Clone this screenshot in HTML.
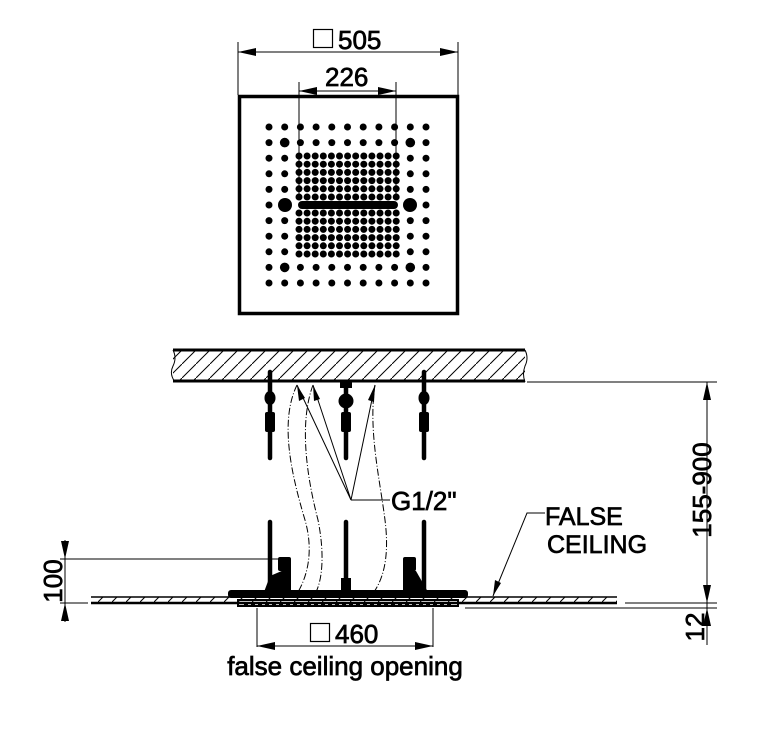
<!DOCTYPE html>
<html><head><meta charset="utf-8"><style>
html,body{margin:0;padding:0;background:#fff;}
svg{display:block;}
text{font-family:"Liberation Sans",Arial,sans-serif;fill:#000;stroke:#000;stroke-width:0.7;}
</style></head><body>
<svg id="s" width="769" height="737" viewBox="0 0 769 737" xmlns="http://www.w3.org/2000/svg">
<defs>
<pattern id="h" width="14" height="14" patternUnits="userSpaceOnUse">
<path d="M0 14 L14 0" stroke="#000" stroke-width="1"/>
</pattern>
</defs>
<rect x="239.5" y="96.5" width="218" height="217" fill="none" stroke="#000" stroke-width="3.5"/>
<g id="dots"></g>
<rect x="298" y="201" width="100" height="8" rx="4" fill="#000"/>
<circle cx="285" cy="205" r="7"/><circle cx="410" cy="205" r="7"/>
<g stroke="#000" stroke-width="1">
<line x1="238" y1="42" x2="238" y2="95"/><line x1="458" y1="42" x2="458" y2="95"/>
<line x1="238" y1="52" x2="458" y2="52"/>
<line x1="299" y1="82" x2="299" y2="198"/><line x1="396" y1="82" x2="396" y2="198"/>
<line x1="299" y1="91" x2="396" y2="91"/>
</g>
<path d="M238 52 l18 -4 v8z M458 52 l-18 -4 v8z M299 91 l18 -4 v8z M396 91 l-18 -4 v8z"/>
<rect x="313.5" y="29.5" width="19" height="18" fill="none" stroke="#000" stroke-width="1.2"/>
<text x="338" y="49" font-size="26">505</text>
<text x="325" y="86" font-size="26">226</text>

<rect x="173" y="350" width="352" height="32" fill="url(#h)"/>
<line x1="173" y1="350" x2="525" y2="350" stroke="#000" stroke-width="3"/>
<line x1="173" y1="381" x2="525" y2="381" stroke="#000" stroke-width="3"/>
<path d="M173 350 q4 8 0 16 q-4 8 2 16 M525 350 q4 8 0 16 q-3 8 0 16" fill="none" stroke="#000" stroke-width="1"/>

<g stroke="#000" stroke-linecap="round">
<line x1="270" y1="372" x2="270" y2="458" stroke-width="4.5"/>
<line x1="346" y1="382" x2="346" y2="458" stroke-width="4.5"/>
<line x1="424" y1="372" x2="424" y2="458" stroke-width="4.5"/>
<line x1="270" y1="522" x2="270" y2="592" stroke-width="4.5"/>
<line x1="346" y1="522" x2="346" y2="588" stroke-width="4.5"/>
<line x1="424" y1="522" x2="424" y2="592" stroke-width="4.5"/>
</g>
<g fill="#000">
<ellipse cx="270" cy="398" rx="5.5" ry="7"/><rect x="265" y="412" width="10" height="20" rx="2"/>
<ellipse cx="424" cy="398" rx="5.5" ry="7"/><rect x="419" y="412" width="10" height="20" rx="2"/>
<circle cx="346" cy="401" r="7.5"/><rect x="340" y="381" width="12" height="7"/><rect x="341" y="412" width="10" height="20" rx="2"/>
<rect x="341" y="578" width="10" height="12"/>
</g>
<g fill="#000">
<rect x="278" y="557" width="13" height="14" rx="2"/><path d="M264 592 l6 -16 l21 -9 v25z"/>
<rect x="403" y="557" width="13" height="14" rx="2"/><path d="M403 592 v-25 l13 4 l12 21z"/>
</g>
<g fill="none" stroke="#000" stroke-width="1" stroke-dasharray="7,2,1,2">
<path d="M297 385 C280 420 290 470 305 520 C315 555 305 580 298 592"/>
<path d="M313 385 C300 420 305 470 318 520 C325 555 322 580 316 592"/>
<path d="M375 385 C368 430 380 480 385 520 C390 560 382 580 374 592"/>
</g>
<g stroke="#000" stroke-width="1" fill="none">
<path d="M297 385 L351 500 L313 385 M351 500 L375 385 M351 500 L390 500"/>
</g>
<path d="M297 385 l2 16 l6 -3z M313 385 l1 16 l6 -2z M375 385 l-7 15 l6 2z"/>
<text x="391" y="510" font-size="26">G1/2"</text>

<rect x="91" y="597" width="526" height="6" fill="url(#h)"/>
<line x1="91" y1="597" x2="617" y2="597" stroke="#000" stroke-width="1.5"/>
<line x1="91" y1="603" x2="617" y2="603" stroke="#000" stroke-width="2.5"/>
<rect x="228" y="590" width="240" height="8" rx="3" fill="#000"/>
<rect x="238" y="600" width="220" height="6" fill="none" stroke="#000" stroke-width="2"/>
<path d="M244 605 h208" stroke="#000" stroke-width="3" stroke-dasharray="4,3"/>
<path d="M493 596 L527 513 L545 513" stroke="#000" stroke-width="1" fill="none"/>
<path d="M493 596 l2 -16 l6 3z"/>
<text x="545" y="525" font-size="25">FALSE</text>
<text x="547" y="553" font-size="25">CEILING</text>

<g stroke="#000" stroke-width="1">
<line x1="527" y1="382" x2="717" y2="382"/>
<line x1="625" y1="603" x2="717" y2="603"/>
<line x1="465" y1="608" x2="717" y2="608"/>
<line x1="707" y1="382" x2="707" y2="645"/>
</g>
<path d="M707 382 l-4 18 h8z M707 603 l-4 -18 h8z M707 608 l-4 18 h8z"/>
<text transform="translate(711 490) rotate(-90)" font-size="26" text-anchor="middle">155-900</text>
<text transform="translate(704 627) rotate(-90)" font-size="26" text-anchor="middle">12</text>

<g stroke="#000" stroke-width="1">
<line x1="60" y1="559" x2="282" y2="559"/>
<line x1="60" y1="603" x2="88" y2="603"/>
<line x1="65" y1="540" x2="65" y2="622"/>
</g>
<path d="M65 559 l-4 -18 h8z M65 603 l-4 18 h8z"/>
<text transform="translate(62 581) rotate(-90)" font-size="26" text-anchor="middle">100</text>

<g stroke="#000" stroke-width="1">
<line x1="257" y1="608" x2="257" y2="647"/><line x1="433" y1="608" x2="433" y2="647"/>
<line x1="257" y1="646" x2="433" y2="646"/>
</g>
<path d="M257 646 l18 -4 v8z M433 646 l-18 -4 v8z"/>
<rect x="310.5" y="623.5" width="19" height="18" fill="none" stroke="#000" stroke-width="1.2"/>
<text x="335" y="643" font-size="26">460</text>
<text x="345" y="675" font-size="26" text-anchor="middle">false ceiling opening</text>
</svg>
<script>
var g=document.getElementById('dots'),h='';
function c(x,y,r){h+='<circle cx="'+x+'" cy="'+y+'" r="'+r+'"/>';}
for(var i=0;i<11;i++){for(var j=0;j<11;j++){
 var x=269+j*15.7,y=127+i*15.6;
 if(i>=2&&i<=8&&j>=2&&j<=8) continue;
 if(i==5&&(j==1||j==9)) continue;
 var big=((i==1||i==9)&&(j==1||j==9));
 c(x.toFixed(1),y.toFixed(1),big?4.8:3.5);
}}
for(var r=0;r<6;r++)for(var k=0;k<13;k++){c((299+k*8.1).toFixed(1),(156+r*8.2).toFixed(1),3.5);c((299+k*8.1).toFixed(1),(213+r*8.2).toFixed(1),3.5);}
g.innerHTML=h;
</script>
</body></html>
